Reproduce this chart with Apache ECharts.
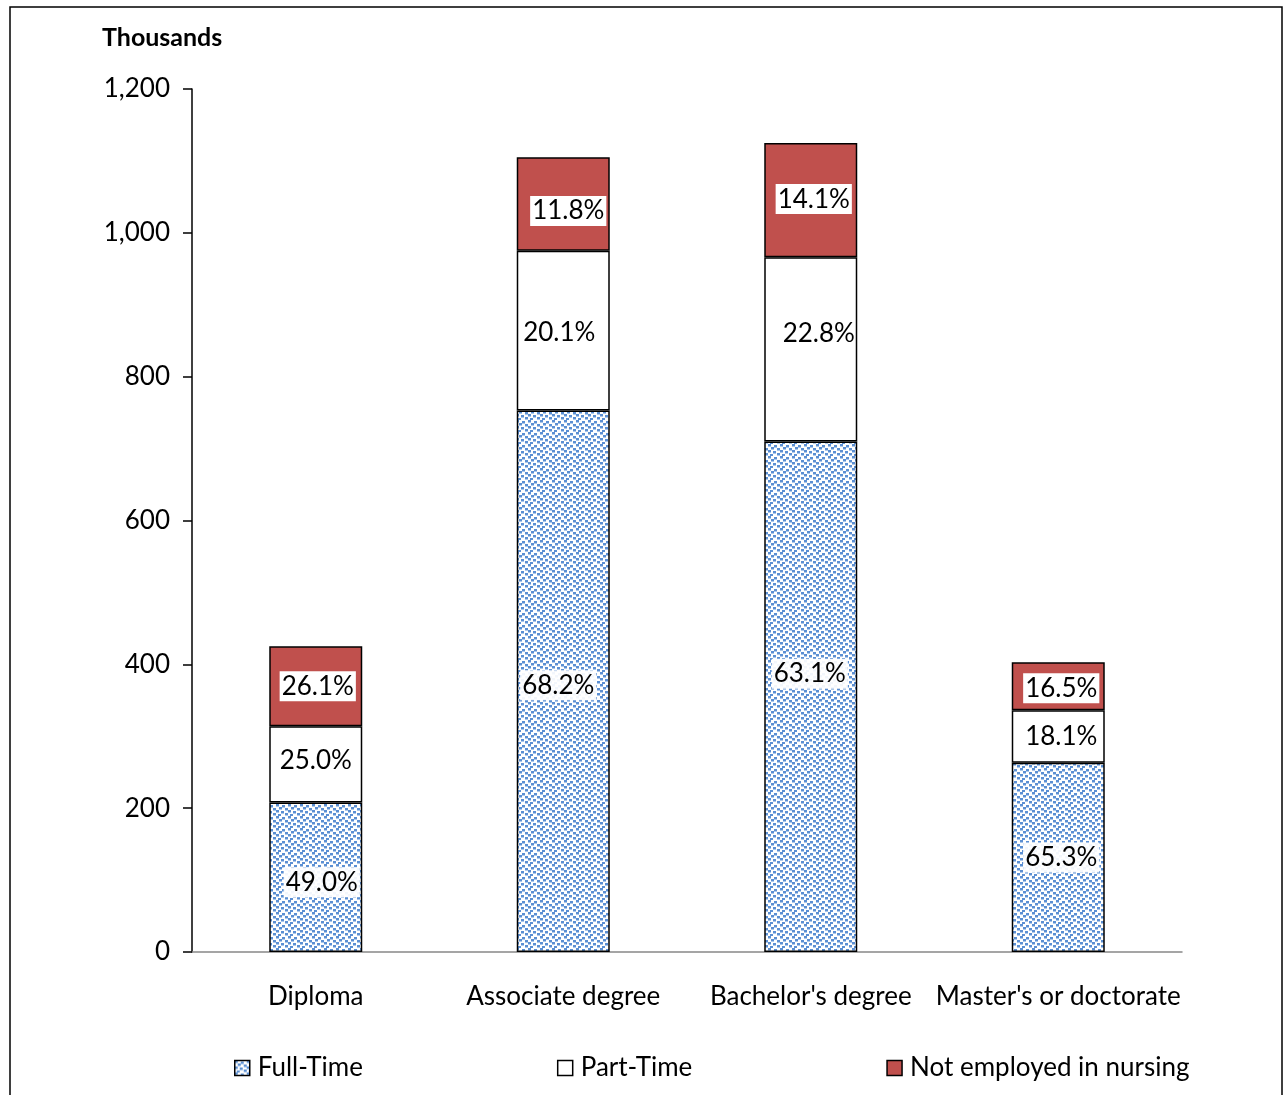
<!DOCTYPE html>
<html><head><meta charset="utf-8">
<script src="https://cdn.jsdelivr.net/npm/echarts@6/dist/echarts.min.js"></script>
<style>html,body{margin:0;padding:0;background:#fff}#c{width:1285px;height:1095px}</style>
</head><body><div id="c"></div>
<script>
const categories = ["Diploma", "Associate degree", "Bachelor's degree", "Master's or doctorate"];
const fullTime = [208, 753, 710, 263];
const partTime = [106, 222, 256, 73];
const notEmployed = [111, 130, 159, 67];
const fullTimePct = ["49.0%", "68.2%", "63.1%", "65.3%"];
const partTimePct = ["25.0%", "20.1%", "22.8%", "18.1%"];
const notEmployedPct = ["26.1%", "11.8%", "14.1%", "16.5%"];
const yTicks = [0, 200, 400, 600, 800, 1000, 1200];

// label nudges (px) as placed in the original
const ftShift = [[6, 5], [-5, 4], [-1, -23], [3, 0]];
const ptShift = [[0, -4], [-4, 2], [8, -16], [3, 0]];
const neShift = [[2, 0], [5, 7], [3, -1], [3, 2]];

// dotted pattern
const pc = document.createElement('canvas');
pc.width = 12; pc.height = 12;
const g = pc.getContext('2d');
g.fillStyle = '#fff'; g.fillRect(0,0,12,12);
g.fillStyle = '#5b8fd3';
[[0,0],[6,1],[3,3],[9,4],[0,6],[5,7],[9,9],[2,10]].forEach(p => g.fillRect(p[0], p[1], 3, 2.5));
const pattern = {image: pc, repeat: 'repeat'};

const FONT = 'Lato';
const FS = 26;
const labelBase = {show: true, position: 'inside', color: '#000', fontFamily: FONT, fontSize: FS};
const withShift = (vals, shifts) => vals.map((v, i) => ({value: v, label: {offset: shifts[i]}}));

const chart = echarts.init(document.getElementById('c'));
chart.setOption({
  animation: false,
  backgroundColor: '#fff',
  textStyle: {fontFamily: FONT},
  graphic: [
    {type: 'rect', shape: {x: 10, y: 7, width: 1272, height: 1100}, style: {fill: 'none', stroke: '#000', lineWidth: 1.5}, silent: true},
    {type: 'text', left: 102, top: 25, style: {text: 'Thousands', font: 'bold 25px ' + FONT, fill: '#000'}}
  ],
  grid: {left: 192, right: 103, top: 89, bottom: 143, containLabel: false},
  legend: {
    bottom: 9, left: 229, itemGap: 194, itemWidth: 15, itemHeight: 15,
    icon: 'rect',
    itemStyle: {borderColor: '#000', borderWidth: 1.5},
    textStyle: {fontSize: FS, color: '#000', fontFamily: FONT, padding: [0, 0, 0, 3]},
    data: ['Full-Time', 'Part-Time', 'Not employed in nursing']
  },
  xAxis: {
    type: 'category', data: categories,
    axisLine: {lineStyle: {color: '#888', width: 1.5}},
    axisTick: {show: false},
    axisLabel: {color: '#000', fontSize: FS, margin: 32, fontFamily: FONT, interval: 0}
  },
  yAxis: {
    type: 'value', min: yTicks[0], max: yTicks[yTicks.length - 1], interval: 200,
    splitLine: {show: false},
    axisLine: {show: true, lineStyle: {color: '#000', width: 1.5}},
    axisTick: {show: true, length: 9, lineStyle: {color: '#000', width: 1.5}},
    axisLabel: {color: '#000', fontSize: FS, margin: 22, fontFamily: FONT,
      formatter: v => v.toLocaleString('en-US')}
  },
  series: [
    {name: 'Full-Time', type: 'bar', stack: 's', barWidth: 93, data: withShift(fullTime, ftShift),
      itemStyle: {color: pattern, borderColor: '#000', borderWidth: 1.5},
      label: Object.assign({}, labelBase, {backgroundColor: 'rgba(255,255,255,0.92)', padding: [3, 2, 1, 2],
        formatter: p => fullTimePct[p.dataIndex]})},
    {name: 'Part-Time', type: 'bar', stack: 's', data: withShift(partTime, ptShift),
      itemStyle: {color: '#fff', borderColor: '#000', borderWidth: 1.5},
      label: Object.assign({}, labelBase, {formatter: p => partTimePct[p.dataIndex]})},
    {name: 'Not employed in nursing', type: 'bar', stack: 's', data: withShift(notEmployed, neShift),
      itemStyle: {color: '#c0504d', borderColor: '#000', borderWidth: 1.5},
      label: Object.assign({}, labelBase, {backgroundColor: '#fff', padding: [3, 2, 1, 2],
        formatter: p => notEmployedPct[p.dataIndex]})}
  ]
});
</script></body></html>
